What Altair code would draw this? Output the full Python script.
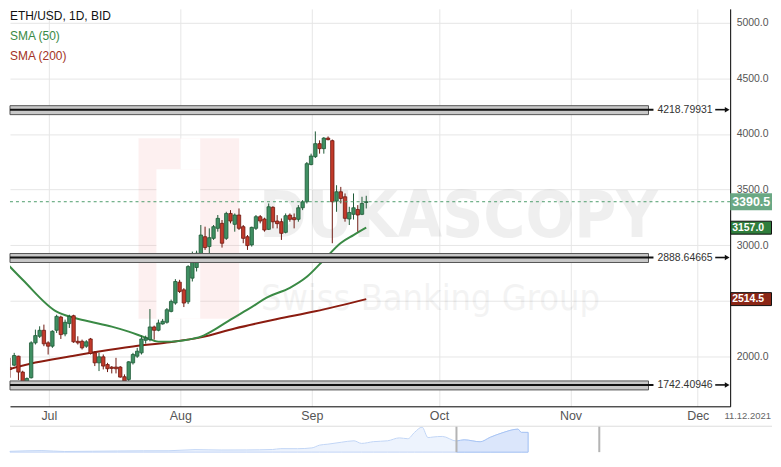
import altair as alt
import pandas as pd

# ---------------- data ----------------
candle_start = "2021-06-21"
opens = [2264, 1947, 1897, 1920, 2001, 1858, 1745, 1807, 2121, 2180,
         2234, 2121, 2091, 2234, 2353, 2201, 2294, 2365, 2135, 2135, 2091, 2156, 2031, 1941, 1995, 1926,
         1903, 1903, 1903, 1816, 1792, 1941, 2001, 2031, 2144, 2150, 2264, 2234, 2291, 2306, 2404,
         2479, 2667, 2598, 2490, 2703, 2799, 2912, 3076, 2987, 3061, 3151, 3196, 3061, 3285, 3187, 3271,
         3166, 3076, 3002, 3151, 3256, 3235, 3142, 3340, 3217, 3211, 3115, 3270, 3247, 3232, 3336,
         3390, 3725, 3796, 3913, 3868, 3963, 3940, 3396, 3480, 3435, 3235, 3277, 3321, 3277, 3384]
highs = [2280, 2031, 1986, 2031, 2005, 1870, 1810, 2135, 2240, 2270,
         2285, 2135, 2234, 2374, 2365, 2330, 2374, 2374, 2180, 2150, 2145, 2165, 2046, 2031, 2016, 1941,
         1912, 1986, 1912, 1837, 1956, 2031, 2076, 2186, 2186, 2425, 2276, 2330, 2336, 2434, 2510,
         2694, 2688, 2613, 2820, 2942, 2950, 3181, 3166, 3151, 3181, 3271, 3226, 3300, 3315, 3285, 3330,
         3181, 3091, 3166, 3271, 3271, 3247, 3375, 3350, 3270, 3240, 3285, 3285, 3285, 3360, 3405,
         3748, 3823, 4023, 3943, 3972, 3978, 3950, 3539, 3524, 3465, 3345, 3465, 3360, 3435, 3444]
lows = [1930, 1725, 1807, 1911, 1786, 1726, 1738, 1800, 2106, 2165,
        2091, 2016, 2076, 2210, 2156, 2180, 2255, 2121, 2106, 2061, 2076, 2016, 1912, 1867, 1882, 1858,
        1846, 1846, 1807, 1717, 1747, 1926, 1986, 2016, 2114, 2135, 2150, 2225, 2285, 2294, 2395,
        2464, 2569, 2443, 2470, 2673, 2763, 2882, 2957, 2897, 3047, 3121, 2978, 3047, 3196, 3121, 3136,
        3017, 2957, 2987, 3136, 3196, 3121, 3136, 3151, 3151, 3047, 3106, 3211, 3151, 3211, 3315,
        3375, 3718, 3784, 3823, 3823, 3943, 3017, 3300, 3375, 3211, 3181, 3230, 3121, 3270, 3330]
closes = [1941, 1923, 1882, 2007, 1858, 1750, 1800, 2121, 2186, 2234,
          2112, 2091, 2225, 2359, 2195, 2306, 2359, 2130, 2121, 2076, 2130, 2025, 1941, 1995, 1912, 1888,
          1891, 1888, 1813, 1777, 1950, 2016, 2046, 2156, 2165, 2264, 2234, 2300, 2315, 2419, 2494,
          2673, 2583, 2479, 2807, 2912, 2927, 3091, 2978, 3067, 3166, 3241, 3017, 3285, 3217, 3271, 3151,
          3061, 2996, 3160, 3256, 3217, 3136, 3345, 3210, 3193, 3106, 3265, 3232, 3229, 3336, 3390,
          3733, 3802, 3913, 3868, 3963, 3949, 3390, 3480, 3420, 3241, 3294, 3336, 3271, 3375, 3390.5]

sma50_dates = ["2021-06-21", "2021-06-26", "2021-07-04", "2021-07-08", "2021-07-12", "2021-07-17",
               "2021-07-21", "2021-07-25", "2021-07-28", "2021-07-31", "2021-08-04", "2021-08-07",
               "2021-08-11", "2021-08-14", "2021-08-18", "2021-08-23", "2021-08-28", "2021-09-01",
               "2021-09-05", "2021-09-09", "2021-09-12", "2021-09-15"]
sma50_values = [2885, 2688, 2401, 2347, 2311, 2267, 2222, 2168, 2132, 2132, 2150, 2177,
                2258, 2330, 2419, 2536, 2616, 2715, 2867, 3020, 3091, 3157]

sma200_dates = ["2021-06-21", "2021-06-29", "2021-07-07", "2021-07-14", "2021-07-22", "2021-07-30",
                "2021-08-07", "2021-08-15", "2021-08-25", "2021-09-03", "2021-09-15"]
sma200_values = [1864, 1944, 1998, 2043, 2088, 2124, 2170, 2250, 2335, 2405, 2514.5]

level_values = [4218.79931, 2888.64665, 1742.40946]
level_labels = ["4218.79931", "2888.64665", "1742.40946"]

last_price = 3390.5
tick_values = [2000, 2500, 3000, 3500, 4000, 4500, 5000]
month_ticks = [7, 8, 9, 10, 11, 12]

nav_dates = ["2020-01-08", "2020-02-15", "2020-03-13", "2020-04-15", "2020-05-15", "2020-06-15",
             "2020-07-15", "2020-08-15", "2020-09-15", "2020-10-15", "2020-11-15", "2020-11-25",
             "2020-12-15", "2021-01-01", "2021-01-10", "2021-01-20", "2021-02-05", "2021-02-20",
             "2021-03-01", "2021-03-15", "2021-04-01", "2021-04-15", "2021-04-25", "2021-05-03",
             "2021-05-12", "2021-05-19", "2021-05-25", "2021-06-05", "2021-06-22", "2021-07-01",
             "2021-07-20", "2021-08-01", "2021-08-15", "2021-09-03", "2021-09-07", "2021-09-15"]
nav_values = [140, 265, 110, 155, 200, 230, 240, 430, 365, 380, 450, 600,
              590, 730, 1200, 1370, 1700, 1950, 1500, 1800, 1950, 2450, 2300, 3400,
              4300, 2500, 2600, 2700, 1900, 2110, 1780, 2550, 3300, 3950, 3400, 3390]

# ---------------- styling ----------------
FONT = "Liberation Sans"
GREEN_FILL, GREEN_LINE = "#3f8f62", "#1f5a37"
RED_FILL, RED_LINE = "#c23a2a", "#6e1810"
SMA50_C, SMA200_C = "#3a8a45", "#8b1c10"
W, H = 723, 399
TOTAL_W = 765
TAG_W = TOTAL_W - W
NAV_W, NAV_H = TOTAL_W, 26
FMT = "%Y-%m-%dT%H:%M:%S"
SHIFT = pd.Timedelta(hours=28)

def ts(d):
    return (pd.Timestamp(d) - SHIFT).strftime(FMT)

dates = pd.date_range(candle_start, periods=len(closes), freq="D")
df = pd.DataFrame({"t": [ts(d) for d in dates], "o": opens, "h": highs, "l": lows, "c": closes})
sma50 = pd.DataFrame({"t": [ts(d) for d in sma50_dates], "v": sma50_values})
sma200 = pd.DataFrame({"t": [ts(d) for d in sma200_dates], "v": sma200_values})
levels = pd.DataFrame({"v": level_values, "label": level_labels})

X0_STR, X1_STR = "2021-06-21T20:10:00", "2021-12-08T15:20:00"
x0 = alt.DateTime(year=2021, month=6, date=21, hours=20, minutes=10)
x1 = alt.DateTime(year=2021, month=12, date=8, hours=15, minutes=20)
xscale = alt.Scale(domain=[x0, x1], padding=0, nice=False)
yscale = alt.Scale(domain=[1550, 5125.5], nice=False, zero=False, padding=0)

xaxis = alt.Axis(values=[alt.DateTime(year=2021, month=m, date=1) for m in month_ticks],
                 format="%b", title=None, ticks=False, labelPadding=3, labelFontSize=12.5,
                 labelColor="#555555", labelFont=FONT, domainColor="#000000", domainWidth=1,
                 gridColor="#e6e6e6", grid=True)
yaxis = alt.Axis(orient="right", values=tick_values, format=".1f", title=None, ticks=False,
                 labelExpr="datum.value == 2500 ? '' : datum.label",
                 labelPadding=6, labelFontSize=10.5, labelColor="#555555", labelFont=FONT,
                 domainColor="#000000", domainWidth=1, gridColor="#e6e6e6", grid=True)

up = "datum.c >= datum.o"

grid = alt.Chart(df).mark_point(opacity=0, clip=True).encode(
    x=alt.X("t:T", scale=xscale, axis=xaxis),
    y=alt.Y("c:Q", scale=yscale, axis=yaxis))

# watermark (logo block + brand text)
one = pd.DataFrame({"a": [0]})
wm_box = alt.layer(
    alt.Chart(one).mark_rect(fill="#f08c8c", opacity=0.13).encode(
        x=alt.value(129), x2=alt.value(230), y=alt.value(130), y2=alt.value(311)),
    alt.Chart(one).mark_rect(fill="#ffffff").encode(
        x=alt.value(147), x2=alt.value(191), y=alt.value(161), y2=alt.value(311)),
    alt.Chart(one).mark_rect(fill="#ffffff").encode(
        x=alt.value(171), x2=alt.value(191), y=alt.value(130), y2=alt.value(161)),
)
wm_big = alt.Chart(pd.DataFrame({"s": ["DUKASCOPY"]})).mark_text(
    align="left", baseline="alphabetic", font="DejaVu Sans Condensed", fontWeight="bold",
    fontSize=64, color="#000000", opacity=0.06, clip=True).encode(
    text="s:N", x=alt.value(250), y=alt.value(229))
wm_small = alt.Chart(pd.DataFrame({"s": ["Swiss Banking Group"]})).mark_text(
    align="left", baseline="alphabetic", font="DejaVu Sans Condensed", fontWeight="normal",
    fontSize=36, color="#000000", opacity=0.045, clip=True).encode(
    text="s:N", x=alt.value(252), y=alt.value(302))

sma_lines = alt.layer(
    alt.Chart(sma200).mark_line(color=SMA200_C, strokeWidth=2, clip=True, interpolate="monotone").encode(
        x=alt.X("t:T", scale=xscale), y=alt.Y("v:Q", scale=yscale)),
    alt.Chart(sma50).mark_line(color=SMA50_C, strokeWidth=2, clip=True, interpolate="monotone").encode(
        x=alt.X("t:T", scale=xscale), y=alt.Y("v:Q", scale=yscale)),
)

wicks = alt.Chart(df).mark_rule(strokeWidth=1, clip=True).encode(
    x=alt.X("t:T", scale=xscale), y=alt.Y("l:Q", scale=yscale), y2="h:Q",
    color=alt.condition(up, alt.value(GREEN_LINE), alt.value(RED_LINE)))
bodies = alt.Chart(df).mark_bar(size=3.4, strokeWidth=0.8, clip=True).encode(
    x=alt.X("t:T", scale=xscale), y=alt.Y("o:Q", scale=yscale), y2="c:Q",
    fill=alt.condition(up, alt.value(GREEN_FILL), alt.value(RED_FILL)),
    stroke=alt.condition(up, alt.value(GREEN_LINE), alt.value(RED_LINE)))

# support / resistance levels
lv = alt.Chart(levels)
level_band = lv.mark_rect(fill="#c8c8c8", stroke="#555555", strokeWidth=1, yOffset=-4, y2Offset=5).encode(
    y=alt.Y("v:Q", scale=yscale), y2="v:Q", x=alt.value(0), x2=alt.value(641))
level_line = lv.mark_rule(color="#111111", strokeWidth=2).encode(
    y=alt.Y("v:Q", scale=yscale), x=alt.value(0), x2=alt.value(646))
level_text = lv.mark_text(align="left", baseline="middle", fontSize=10.5, font=FONT, color="#333333").encode(
    y=alt.Y("v:Q", scale=yscale), x=alt.value(650), text="label:N")
level_arrow = lv.mark_rule(color="#111111", strokeWidth=1.6).encode(
    y=alt.Y("v:Q", scale=yscale), x=alt.value(708), x2=alt.value(720))
level_head = lv.mark_point(shape="triangle-right", filled=True, color="#111111", size=30, opacity=1).encode(
    y=alt.Y("v:Q", scale=yscale), x=alt.value(720))

# last price
lp = alt.Chart(pd.DataFrame({"v": [last_price]}))
lp_line = lp.mark_rule(color="#4f9e6c", strokeDash=[3, 3], strokeWidth=1).encode(
    y=alt.Y("v:Q", scale=yscale), x=alt.value(0), x2=alt.value(W))

tags = pd.DataFrame({"v": [last_price, sma50_values[-1], sma200_values[-1]],
                     "txt": [f"{last_price:.1f}", f"{sma50_values[-1]:.1f}", f"{sma200_values[-1]:.1f}"],
                     "fill": ["#6aa884", "#2f7d3c", "#8b2616"],
                     "stroke": ["#6aa884", "#111111", "#111111"],
                     "fs": [12.5, 10.5, 10.5]})
tag_box = alt.layer(
    alt.Chart(tags.iloc[[0]]).mark_rect(yOffset=-8.5, y2Offset=8.5).encode(
        y=alt.Y("v:Q", scale=yscale), y2="v:Q", x=alt.value(W), x2=alt.value(TOTAL_W),
        fill=alt.Fill("fill:N", scale=None)),
    alt.Chart(tags.iloc[[1, 2]]).mark_rect(yOffset=-6.5, y2Offset=6.5, strokeWidth=1).encode(
        y=alt.Y("v:Q", scale=yscale), y2="v:Q", x=alt.value(W + 0.5), x2=alt.value(TOTAL_W - 0.5),
        fill=alt.Fill("fill:N", scale=None), stroke=alt.Stroke("stroke:N", scale=None)),
)
tag_txt = alt.Chart(tags).mark_text(align="left", baseline="middle", font=FONT, color="white",
                                    fontWeight="bold").encode(
    y=alt.Y("v:Q", scale=yscale), x=alt.value(W + 2), text="txt:N", size=alt.Size("fs:Q", scale=None))

# legend text
leg = pd.DataFrame({"s": ["ETH/USD, 1D, BID", "SMA (50)", "SMA (200)"],
                    "col": ["#111111", SMA50_C, "#a33325"], "yy": [7, 27, 47]})
legend = alt.Chart(leg).mark_text(align="left", baseline="middle", fontSize=12, font=FONT).encode(
    text="s:N", x=alt.value(0), y=alt.Y("yy:Q", scale=None), color=alt.Color("col:N", scale=None))

datestamp = alt.Chart(pd.DataFrame({"s": ["11.12.2021"]})).mark_text(
    align="right", baseline="middle", fontSize=9.5, font=FONT, color="#666666").encode(
    text="s:N", x=alt.value(TOTAL_W - 1), y=alt.value(H + 10))

main = alt.layer(grid, wm_box, wm_big, wm_small, sma_lines, wicks, bodies,
                 level_band, level_line, level_text, level_arrow, level_head,
                 lp_line, tag_box, tag_txt, legend, datestamp).properties(width=W, height=H)

# ---------------- navigator ----------------
nav_df = pd.DataFrame({"t": [pd.Timestamp(d).strftime(FMT) for d in nav_dates], "v": nav_values})
sel_df = nav_df[nav_df["t"] >= "2021-06-21"]
nav_x = alt.Scale(domain=[alt.DateTime(year=2020, month=1, date=8), alt.DateTime(year=2022, month=7, date=2)],
                  padding=0, nice=False)
nav_y = alt.Scale(domain=[0, 4450], nice=False)
nav = alt.layer(
    alt.Chart(nav_df).mark_area(fill="#edf3fd", stroke="#c2d6f6", strokeWidth=1, interpolate="monotone").encode(
        x=alt.X("t:T", scale=nav_x, axis=None), y=alt.Y("v:Q", scale=nav_y, axis=None)),
    alt.Chart(sel_df).mark_area(fill="#dbe6fb", stroke="#a9c5f4", strokeWidth=1, interpolate="monotone").encode(
        x=alt.X("t:T", scale=nav_x), y=alt.Y("v:Q", scale=nav_y)),
    alt.Chart(pd.DataFrame({"t": [X0_STR, X1_STR]})).mark_rule(
        color="#b4b4b4", strokeWidth=2).encode(x=alt.X("t:T", scale=nav_x)),
    alt.Chart(one).mark_rule(color="#dddddd", strokeWidth=1).encode(
        y=alt.value(0), x=alt.value(0), x2=alt.value(NAV_W)),
).properties(width=NAV_W, height=NAV_H)

chart = alt.vconcat(main, nav, spacing=2).properties(padding=0).configure_view(stroke=None)

chart.save("out.html", embed_options={"renderer": "svg", "actions": False})
